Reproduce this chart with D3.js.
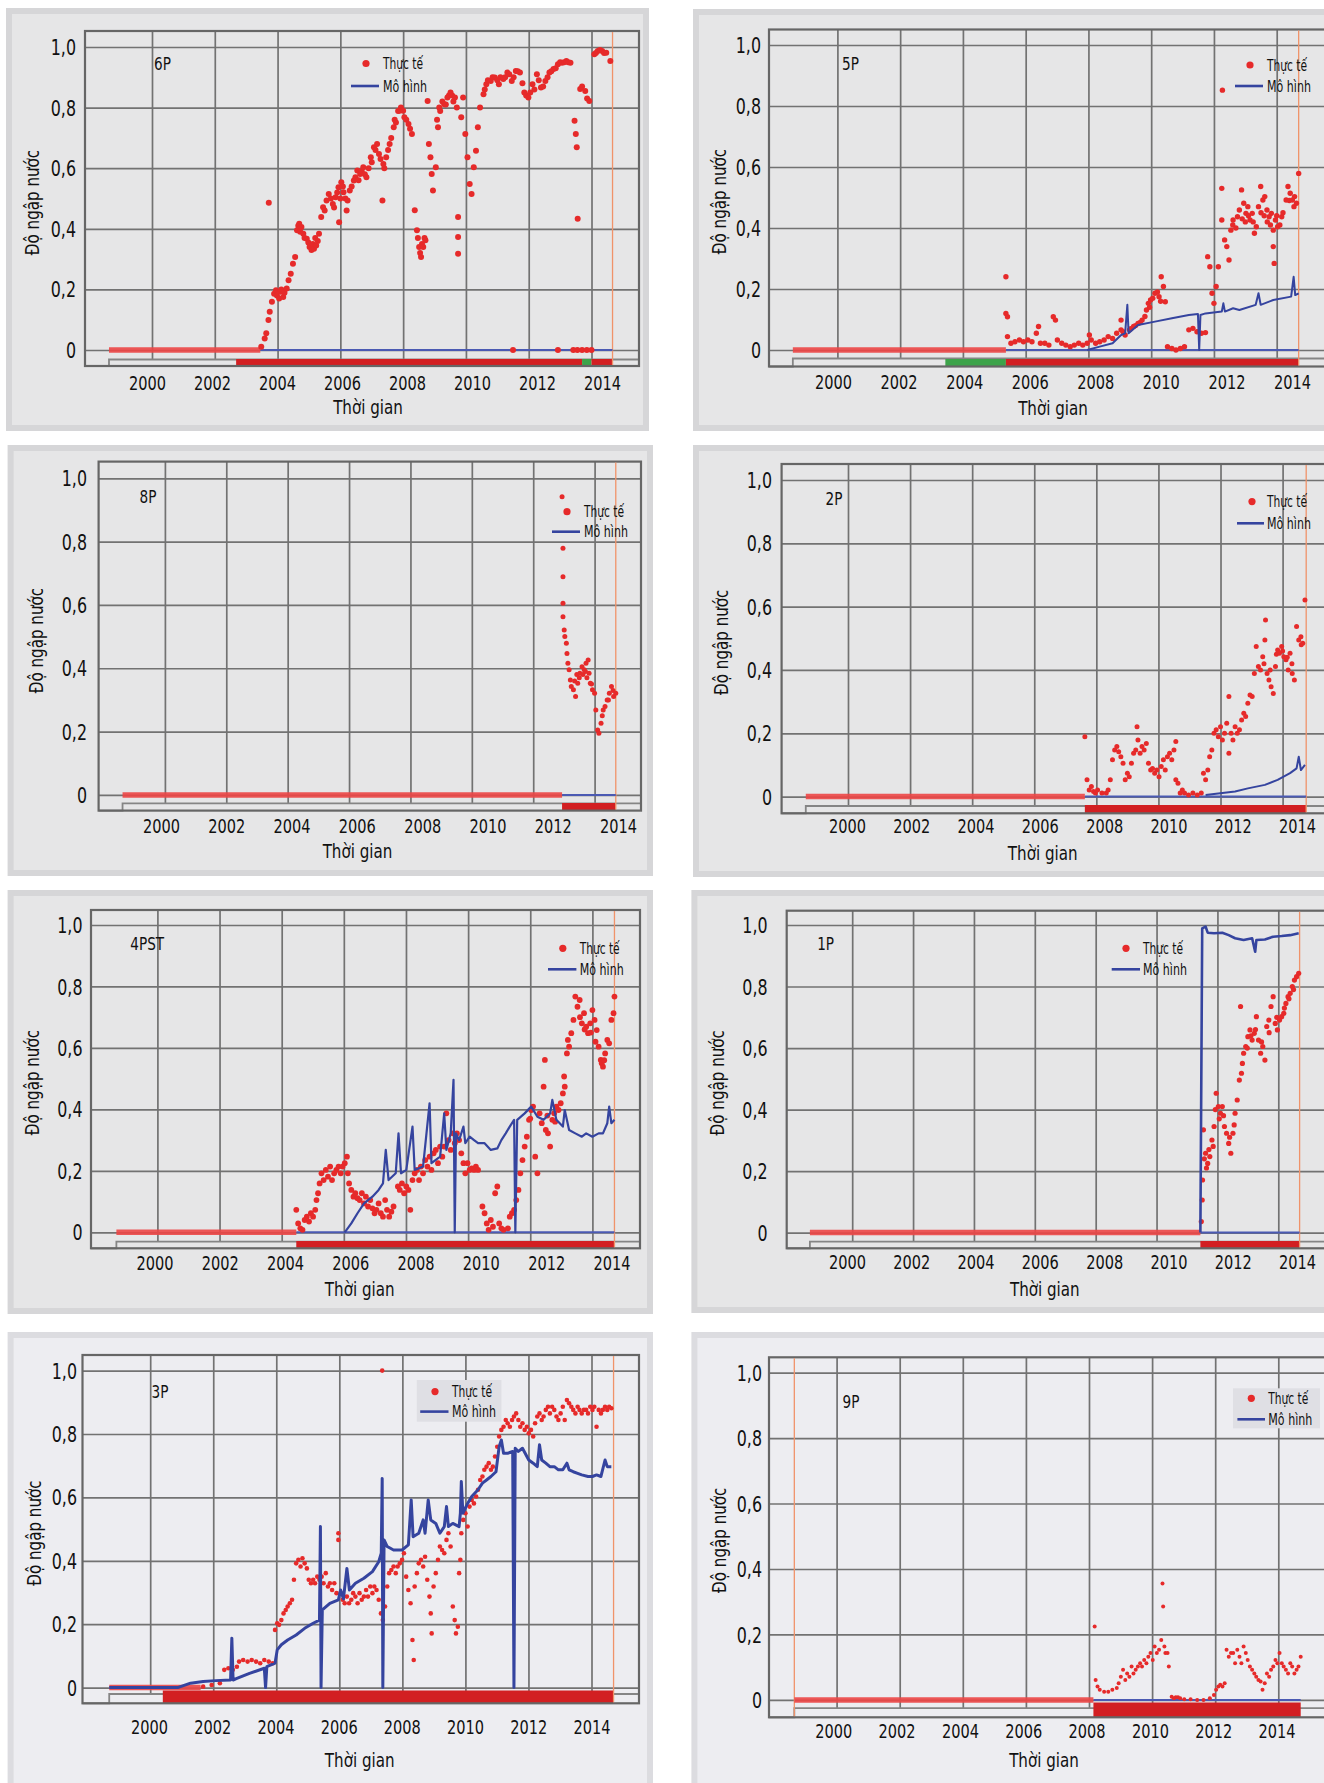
<!DOCTYPE html>
<html>
<head>
<meta charset="utf-8">
<script src="https://cdn.jsdelivr.net/npm/d3@7"></script>
<style>
  body { margin: 0; background: #fff; }
  svg { display: block; }
  text { font-family: "DejaVu Sans Condensed", "Liberation Sans Narrow", "Roboto", sans-serif; fill: #111; }
</style>
</head>
<body>
<svg id="chart"></svg>
<script>
const W = 1324, H = 1783

const yearTicks = [2000, 2002, 2004, 2006, 2008, 2010, 2012, 2014]
const valueTicks = [0, 0.2, 0.4, 0.6, 0.8, 1.0]
const valueLabels = ["0", "0,2", "0,4", "0,6", "0,8", "1,0"]
const yTitle = "Độ ngập nước"
const xTitle = "Thời gian"
const obsName = "Thực tế"
const modName = "Mô hình"

// ---- 6P
const obs6P = [[2003.48,0.011],[2003.59,0.038],[2003.64,0.055],[2003.71,0.099],[2003.72,0.486],[2003.75,0.126],[2003.82,0.159],[2003.89,0.186],[2003.95,0.197],[2003.98,0.18],[2004.05,0.17],[2004.09,0.192],[2004.12,0.2],[2004.18,0.175],[2004.22,0.189],[2004.29,0.203],[2004.35,0.23],[2004.42,0.252],[2004.49,0.285],[2004.56,0.307],[2004.62,0.395],[2004.66,0.41],[2004.69,0.417],[2004.72,0.39],[2004.76,0.406],[2004.82,0.384],[2004.86,0.37],[2004.93,0.367],[2004.98,0.355],[2005.02,0.34],[2005.08,0.33],[2005.12,0.35],[2005.16,0.334],[2005.2,0.37],[2005.23,0.345],[2005.28,0.36],[2005.32,0.384],[2005.39,0.439],[2005.45,0.471],[2005.5,0.46],[2005.56,0.493],[2005.63,0.515],[2005.7,0.5],[2005.76,0.482],[2005.8,0.47],[2005.85,0.504],[2005.9,0.52],[2005.94,0.537],[2005.96,0.422],[2006.0,0.5],[2006.03,0.554],[2006.08,0.54],[2006.1,0.521],[2006.16,0.5],[2006.2,0.46],[2006.23,0.493],[2006.3,0.526],[2006.36,0.54],[2006.43,0.559],[2006.48,0.57],[2006.54,0.592],[2006.58,0.56],[2006.63,0.581],[2006.68,0.59],[2006.73,0.603],[2006.78,0.58],[2006.83,0.57],[2006.9,0.6],[2006.97,0.636],[2007.0,0.62],[2007.07,0.669],[2007.12,0.66],[2007.17,0.68],[2007.23,0.647],[2007.28,0.63],[2007.34,0.493],[2007.37,0.614],[2007.4,0.6],[2007.46,0.636],[2007.52,0.66],[2007.57,0.68],[2007.62,0.7],[2007.7,0.735],[2007.73,0.76],[2007.77,0.751],[2007.84,0.789],[2007.88,0.79],[2007.93,0.8],[2008.0,0.79],[2008.04,0.768],[2008.1,0.76],[2008.17,0.746],[2008.22,0.73],[2008.28,0.713],[2008.37,0.461],[2008.44,0.395],[2008.47,0.37],[2008.51,0.34],[2008.54,0.32],[2008.57,0.307],[2008.6,0.35],[2008.64,0.34],[2008.68,0.37],[2008.71,0.362],[2008.78,0.822],[2008.82,0.68],[2008.87,0.636],[2008.91,0.581],[2008.95,0.526],[2009.04,0.603],[2009.08,0.76],[2009.11,0.735],[2009.15,0.8],[2009.18,0.789],[2009.25,0.82],[2009.31,0.811],[2009.36,0.81],[2009.41,0.833],[2009.46,0.84],[2009.51,0.85],[2009.56,0.84],[2009.6,0.82],[2009.65,0.833],[2009.71,0.8],[2009.75,0.439],[2009.75,0.373],[2009.75,0.318],[2009.85,0.768],[2009.91,0.833],[2009.98,0.713],[2010.05,0.636],[2010.12,0.548],[2010.18,0.515],[2010.25,0.603],[2010.32,0.658],[2010.38,0.735],[2010.45,0.8],[2010.56,0.844],[2010.6,0.86],[2010.65,0.877],[2010.7,0.89],[2010.79,0.888],[2010.85,0.9],[2010.92,0.899],[2011.0,0.89],[2011.05,0.877],[2011.1,0.9],[2011.19,0.894],[2011.25,0.9],[2011.32,0.916],[2011.38,0.91],[2011.46,0.888],[2011.5,0],[2011.52,0.9],[2011.59,0.921],[2011.65,0.92],[2011.72,0.916],[2011.8,0.88],[2011.86,0.85],[2011.92,0.84],[2011.99,0.833],[2012.05,0.85],[2012.12,0.877],[2012.18,0.86],[2012.26,0.91],[2012.32,0.89],[2012.39,0.866],[2012.46,0.87],[2012.53,0.888],[2012.6,0.9],[2012.66,0.916],[2012.72,0.92],[2012.79,0.927],[2012.86,0.93],[2012.93,0.943],[2012.93,0],[2013.0,0.95],[2013.06,0.948],[2013.13,0.95],[2013.2,0.954],[2013.26,0.95],[2013.33,0.948],[2013.42,0],[2013.46,0.757],[2013.5,0.713],[2013.53,0.669],[2013.55,0],[2013.56,0.433],[2013.64,0.861],[2013.7,0.87],[2013.7,0],[2013.8,0.855],[2013.85,0],[2013.86,0.83],[2013.93,0.822],[2014.0,0],[2014.09,0.976],[2014.14,0.98],[2014.2,0.987],[2014.27,0.99],[2014.34,0.987],[2014.4,0.98],[2014.47,0.981],[2014.6,0.954]]
const mod6P = []
const zero6P = [1998.63, 2003.45]
const modZero6P = [2003.45, 2014.67]
const bars6P = [[2002.68, 2013.7, "a"], [2013.7, 2014.0, "b"], [2014.0, 2014.67, "a"]]
const mark6P = 2014.67

// ---- 5P
const obs5P = [[2005.37,0.24],[2005.37,0.12],[2005.42,0.109],[2005.42,0.044],[2005.53,0.022],[2005.66,0.027],[2005.8,0.033],[2005.93,0.027],[2006.07,0.033],[2006.2,0.027],[2006.34,0.055],[2006.41,0.077],[2006.47,0.022],[2006.61,0.022],[2006.74,0.016],[2006.88,0.109],[2006.95,0.098],[2007.01,0.033],[2007.15,0.022],[2007.28,0.016],[2007.42,0.011],[2007.55,0.016],[2007.69,0.022],[2007.82,0.016],[2007.96,0.022],[2008.03,0.049],[2008.09,0.033],[2008.23,0.022],[2008.36,0.027],[2008.5,0.033],[2008.63,0.044],[2008.77,0.038],[2008.9,0.055],[2009.04,0.066],[2009.04,0.098],[2009.1,0.06],[2009.17,0.049],[2009.31,0.066],[2009.35,0.07],[2009.44,0.077],[2009.5,0.08],[2009.58,0.087],[2009.65,0.09],[2009.71,0.098],[2009.8,0.11],[2009.85,0.131],[2009.91,0.153],[2009.95,0.14],[2009.98,0.164],[2010.05,0.17],[2010.12,0.186],[2010.2,0.19],[2010.25,0.175],[2010.3,0.16],[2010.32,0.24],[2010.39,0.208],[2010.45,0.158],[2010.52,0.011],[2010.66,0.005],[2010.79,0],[2010.93,0.005],[2011.06,0.011],[2011.2,0.066],[2011.33,0.071],[2011.46,0.06],[2011.6,0.055],[2011.73,0.057],[2011.8,0.306],[2011.87,0.273],[2011.94,0.186],[2012.0,0.153],[2012.07,0.208],[2012.14,0.273],[2012.25,0.53],[2012.27,0.852],[2012.25,0.426],[2012.34,0.361],[2012.41,0.339],[2012.48,0.295],[2012.54,0.393],[2012.6,0.41],[2012.61,0.426],[2012.7,0.4],[2012.75,0.437],[2012.81,0.459],[2012.88,0.525],[2012.9,0.43],[2012.95,0.481],[2013.0,0.42],[2013.02,0.448],[2013.08,0.47],[2013.1,0.44],[2013.15,0.426],[2013.22,0.448],[2013.25,0.42],[2013.29,0.383],[2013.35,0.404],[2013.42,0.47],[2013.49,0.536],[2013.5,0.45],[2013.56,0.492],[2013.6,0.44],[2013.62,0.503],[2013.69,0.459],[2013.7,0.42],[2013.76,0.437],[2013.8,0.41],[2013.83,0.448],[2013.89,0.393],[2013.89,0.339],[2013.92,0.284],[2013.96,0.426],[2014.0,0.44],[2014.03,0.404],[2014.1,0.41],[2014.16,0.437],[2014.2,0.45],[2014.3,0.492],[2014.36,0.536],[2014.4,0.49],[2014.43,0.514],[2014.5,0.492],[2014.55,0.47],[2014.57,0.503],[2014.63,0.481],[2014.7,0.579]]
const mod5P = [[2007.96,0],[2008.36,0.011],[2008.77,0.022],[2009.04,0.049],[2009.17,0.055],[2009.24,0.148],[2009.28,0.055],[2009.58,0.082],[2010.12,0.093],[2010.66,0.104],[2011.2,0.115],[2011.49,0.118],[2011.53,0],[2011.57,0.115],[2011.73,0.12],[2012.25,0.126],[2012.3,0.153],[2012.35,0.126],[2012.61,0.137],[2012.81,0.131],[2013.33,0.148],[2013.42,0.186],[2013.49,0.148],[2013.89,0.164],[2014.46,0.175],[2014.54,0.24],[2014.59,0.18],[2014.7,0.186]]
const zero5P = [1998.58, 2005.37]
const modZero5P = [2005.37, 2014.7]
const bars5P = [[2003.44, 2005.37, "b"], [2005.37, 2014.7, "a"]]
const mark5P = 2014.7

// ---- 8P
const obs8P = [[2012.94,0.942],[2012.97,0.779],[2012.97,0.689],[2012.97,0.605],[2012.97,0.563],[2013.01,0.521],[2013.03,0.5],[2013.08,0.479],[2013.1,0.447],[2013.13,0.416],[2013.17,0.395],[2013.21,0.363],[2013.24,0.342],[2013.31,0.332],[2013.35,0.36],[2013.38,0.311],[2013.42,0.38],[2013.45,0.353],[2013.5,0.37],[2013.52,0.384],[2013.59,0.405],[2013.62,0.38],[2013.66,0.395],[2013.7,0.39],[2013.72,0.416],[2013.75,0.37],[2013.79,0.426],[2013.82,0.384],[2013.86,0.353],[2013.9,0.35],[2013.93,0.332],[2014.0,0.321],[2014.04,0.268],[2014.1,0.205],[2014.14,0.195],[2014.21,0.226],[2014.25,0.25],[2014.28,0.268],[2014.34,0.279],[2014.41,0.3],[2014.45,0.3],[2014.48,0.321],[2014.55,0.342],[2014.6,0.33],[2014.62,0.311],[2014.69,0.321]]
const mod8P = []
const zero8P = [1998.62, 2012.94]
const modZero8P = [2012.94, 2014.69]
const bars8P = [[2012.94, 2014.69, "a"]]
const mark8P = 2014.69

// ---- 2P
const obs2P = [[2007.63,0.189],[2007.7,0.053],[2007.77,0.021],[2007.84,0.032],[2007.91,0.016],[2007.97,0.011],[2008.04,0.021],[2008.18,0.011],[2008.32,0.011],[2008.38,0.021],[2008.45,0.053],[2008.52,0.116],[2008.59,0.147],[2008.66,0.158],[2008.72,0.142],[2008.79,0.126],[2008.86,0.105],[2008.93,0.053],[2009.0,0.074],[2009.06,0.063],[2009.13,0.105],[2009.2,0.137],[2009.27,0.147],[2009.31,0.221],[2009.34,0.179],[2009.41,0.137],[2009.47,0.158],[2009.54,0.147],[2009.61,0.168],[2009.68,0.105],[2009.75,0.084],[2009.81,0.089],[2009.88,0.074],[2009.95,0.084],[2010.02,0.063],[2010.09,0.095],[2010.16,0.116],[2010.22,0.084],[2010.29,0.126],[2010.36,0.137],[2010.43,0.116],[2010.5,0.147],[2010.56,0.174],[2010.56,0.053],[2010.63,0.042],[2010.7,0.011],[2010.77,0.021],[2010.84,0.011],[2010.97,0.005],[2011.11,0.011],[2011.25,0.005],[2011.38,0.011],[2011.45,0.074],[2011.52,0.053],[2011.59,0.084],[2011.65,0.126],[2011.72,0.147],[2011.79,0.2],[2011.86,0.211],[2011.93,0.189],[2012.0,0.221],[2012.06,0.179],[2012.13,0.2],[2012.2,0.232],[2012.27,0.316],[2012.27,0.137],[2012.34,0.2],[2012.4,0.179],[2012.47,0.221],[2012.54,0.2],[2012.61,0.211],[2012.68,0.242],[2012.75,0.263],[2012.81,0.253],[2012.88,0.295],[2012.95,0.321],[2013.02,0.316],[2013.09,0.389],[2013.15,0.474],[2013.22,0.411],[2013.29,0.4],[2013.36,0.442],[2013.4,0.42],[2013.43,0.495],[2013.45,0.558],[2013.5,0.389],[2013.56,0.368],[2013.6,0.4],[2013.63,0.347],[2013.7,0.326],[2013.77,0.411],[2013.8,0.45],[2013.84,0.463],[2013.9,0.453],[2013.97,0.474],[2014.0,0.46],[2014.04,0.442],[2014.11,0.432],[2014.15,0.44],[2014.18,0.4],[2014.24,0.453],[2014.3,0.42],[2014.31,0.389],[2014.38,0.368],[2014.45,0.537],[2014.52,0.495],[2014.59,0.505],[2014.6,0.48],[2014.65,0.484],[2014.72,0.621]]
const mod2P = [[2011.52,0.005],[2012.06,0.011],[2012.47,0.016],[2012.88,0.026],[2013.43,0.037],[2013.84,0.053],[2014.24,0.074],[2014.45,0.089],[2014.52,0.126],[2014.59,0.084],[2014.72,0.1]]
const zero2P = [1998.64, 2007.63]
const modZero2P = [2007.63, 2014.76]
const bars2P = [[2007.63, 2014.76, "a"]]
const mark2P = 2014.76

// ---- 4PST
const obs4PST = [[2004.47,0.073],[2004.53,0.029],[2004.6,0.013],[2004.67,0.008],[2004.74,0.04],[2004.81,0.051],[2004.88,0.035],[2004.94,0.062],[2005.01,0.051],[2005.08,0.073],[2005.12,0.105],[2005.17,0.127],[2005.22,0.159],[2005.28,0.192],[2005.35,0.17],[2005.42,0.203],[2005.49,0.181],[2005.56,0.214],[2005.62,0.17],[2005.69,0.192],[2005.76,0.203],[2005.83,0.214],[2005.9,0.192],[2005.96,0.214],[2006.03,0.225],[2006.1,0.246],[2006.13,0.192],[2006.17,0.159],[2006.24,0.138],[2006.31,0.116],[2006.37,0.127],[2006.44,0.111],[2006.51,0.105],[2006.58,0.127],[2006.65,0.094],[2006.71,0.116],[2006.78,0.084],[2006.85,0.105],[2006.92,0.078],[2006.99,0.062],[2007.05,0.073],[2007.12,0.094],[2007.19,0.062],[2007.26,0.051],[2007.33,0.105],[2007.39,0.073],[2007.46,0.051],[2007.53,0.067],[2007.6,0.084],[2007.74,0.149],[2007.8,0.138],[2007.87,0.159],[2007.94,0.127],[2008.01,0.149],[2008.08,0.138],[2008.14,0.073],[2008.21,0.17],[2008.28,0.192],[2008.35,0.203],[2008.42,0.17],[2008.48,0.214],[2008.55,0.192],[2008.62,0.235],[2008.69,0.214],[2008.76,0.246],[2008.82,0.203],[2008.89,0.257],[2008.96,0.268],[2009.03,0.225],[2009.1,0.279],[2009.17,0.246],[2009.23,0.279],[2009.3,0.387],[2009.37,0.3],[2009.44,0.268],[2009.51,0.322],[2009.57,0.29],[2009.64,0.322],[2009.71,0.3],[2009.78,0.257],[2009.85,0.225],[2009.91,0.192],[2009.98,0.225],[2010.05,0.203],[2010.12,0.208],[2010.19,0.203],[2010.25,0.214],[2010.32,0.203],[2010.46,0.084],[2010.53,0.062],[2010.6,0.029],[2010.66,0.008],[2010.73,0.04],[2010.8,0.018],[2010.87,0.127],[2010.94,0.149],[2011.0,0.029],[2011.07,0.013],[2011.14,0.008],[2011.28,0.013],[2011.34,0.051],[2011.41,0.062],[2011.48,0.073],[2011.55,0.105],[2011.62,0.138],[2011.68,0.192],[2011.75,0.235],[2011.82,0.279],[2011.89,0.311],[2011.96,0.366],[2012.0,0.37],[2012.03,0.398],[2012.09,0.409],[2012.16,0.246],[2012.23,0.192],[2012.3,0.387],[2012.37,0.355],[2012.43,0.474],[2012.47,0.561],[2012.5,0.333],[2012.55,0.38],[2012.57,0.322],[2012.64,0.279],[2012.71,0.366],[2012.77,0.387],[2012.8,0.36],[2012.84,0.409],[2012.91,0.398],[2012.98,0.42],[2013.05,0.452],[2013.09,0.507],[2013.11,0.474],[2013.18,0.582],[2013.21,0.626],[2013.25,0.604],[2013.32,0.648],[2013.39,0.691],[2013.45,0.767],[2013.52,0.734],[2013.59,0.756],[2013.6,0.7],[2013.66,0.68],[2013.73,0.713],[2013.75,0.66],[2013.8,0.669],[2013.86,0.648],[2013.93,0.68],[2013.95,0.65],[2014.0,0.723],[2014.07,0.691],[2014.1,0.62],[2014.14,0.658],[2014.2,0.604],[2014.27,0.561],[2014.3,0.55],[2014.34,0.539],[2014.38,0.56],[2014.41,0.582],[2014.48,0.626],[2014.54,0.615],[2014.61,0.691],[2014.68,0.713],[2014.71,0.767]]
const mod4PST = [[2006.03,0],[2006.24,0.029],[2006.44,0.062],[2006.65,0.094],[2006.92,0.116],[2007.12,0.138],[2007.26,0.159],[2007.35,0.268],[2007.44,0.17],[2007.67,0.192],[2007.76,0.322],[2007.84,0.192],[2008.01,0.203],[2008.21,0.344],[2008.28,0.203],[2008.55,0.214],[2008.76,0.42],[2008.82,0.225],[2009.1,0.246],[2009.23,0.387],[2009.3,0.268],[2009.44,0.322],[2009.53,0.496],[2009.57,0],[2009.61,0.322],[2009.71,0.3],[2009.85,0.344],[2009.91,0.29],[2010.05,0.311],[2010.19,0.3],[2010.32,0.29],[2010.53,0.29],[2010.73,0.268],[2010.94,0.273],[2011.07,0.3],[2011.21,0.322],[2011.34,0.344],[2011.48,0.366],[2011.52,0],[2011.58,0.366],[2011.82,0.387],[2012.03,0.409],[2012.23,0.376],[2012.43,0.366],[2012.64,0.387],[2012.71,0.431],[2012.84,0.366],[2013.05,0.344],[2013.11,0.398],[2013.25,0.333],[2013.45,0.322],[2013.66,0.311],[2013.8,0.322],[2014.0,0.311],[2014.2,0.322],[2014.34,0.322],[2014.48,0.355],[2014.54,0.409],[2014.61,0.355],[2014.71,0.366]]
const zero4PST = [1998.68, 2004.47]
const modZero4PST = [2004.47, 2014.71]
const bars4PST = [[2004.47, 2014.71, "a"]]
const mark4PST = 2014.71

// ---- 1P
const obs1P = [[2011.47,0.036],[2011.5,0.106],[2011.51,0.171],[2011.54,0.334],[2011.57,0.24],[2011.61,0.258],[2011.64,0.21],[2011.68,0.225],[2011.72,0.27],[2011.75,0.247],[2011.82,0.301],[2011.86,0.28],[2011.89,0.345],[2011.93,0.4],[2011.96,0.453],[2012.03,0.41],[2012.06,0.37],[2012.1,0.388],[2012.16,0.41],[2012.2,0.38],[2012.23,0.345],[2012.3,0.323],[2012.37,0.29],[2012.4,0.31],[2012.44,0.258],[2012.51,0.323],[2012.55,0.35],[2012.58,0.388],[2012.65,0.431],[2012.72,0.496],[2012.76,0.735],[2012.79,0.518],[2012.82,0.55],[2012.86,0.583],[2012.93,0.605],[2012.98,0.6],[2013.0,0.637],[2013.07,0.659],[2013.1,0.64],[2013.14,0.626],[2013.21,0.648],[2013.25,0.66],[2013.28,0.702],[2013.35,0.626],[2013.42,0.583],[2013.45,0.62],[2013.49,0.605],[2013.56,0.561],[2013.62,0.67],[2013.69,0.691],[2013.7,0.65],[2013.76,0.735],[2013.83,0.767],[2013.9,0.68],[2013.95,0.7],[2013.97,0.659],[2014.04,0.691],[2014.11,0.702],[2014.18,0.713],[2014.2,0.73],[2014.25,0.745],[2014.32,0.767],[2014.35,0.76],[2014.39,0.778],[2014.46,0.8],[2014.5,0.79],[2014.53,0.821],[2014.6,0.832],[2014.67,0.843]]
const mod1P = [[2011.44,0],[2011.5,0.989],[2011.61,0.995],[2011.68,0.975],[2011.89,0.973],[2012.16,0.975],[2012.37,0.967],[2012.58,0.957],[2012.86,0.951],[2013.14,0.957],[2013.24,0.913],[2013.28,0.951],[2013.56,0.953],[2013.83,0.962],[2014.11,0.964],[2014.39,0.967],[2014.67,0.973]]
const zero1P = [1998.61, 2011.44]
const modZero1P = [2011.44, 2014.7]
const bars1P = [[2011.44, 2014.7, "a"]]
const mark1P = 2014.7

// ---- 3P
const obs3P = [[2001.68,0.003],[2001.95,0.008],[2002.21,0.014],[2002.35,0.056],[2002.48,0.061],[2002.62,0.056],[2002.75,0.066],[2002.82,0.082],[2002.95,0.087],[2003.09,0.082],[2003.22,0.087],[2003.36,0.082],[2003.49,0.077],[2003.62,0.087],[2003.76,0.082],[2003.89,0.077],[2003.96,0.182],[2004.03,0.203],[2004.09,0.198],[2004.16,0.213],[2004.23,0.234],[2004.3,0.245],[2004.36,0.256],[2004.43,0.266],[2004.5,0.277],[2004.56,0.34],[2004.63,0.392],[2004.7,0.403],[2004.77,0.382],[2004.83,0.408],[2004.9,0.392],[2004.97,0.376],[2005.03,0.34],[2005.1,0.329],[2005.17,0.34],[2005.23,0.329],[2005.3,0.35],[2005.37,0.34],[2005.44,0.35],[2005.5,0.329],[2005.57,0.361],[2005.64,0.319],[2005.7,0.329],[2005.77,0.308],[2005.84,0.329],[2005.91,0.298],[2005.97,0.487],[2005.97,0.466],[2006.04,0.298],[2006.11,0.277],[2006.17,0.266],[2006.24,0.287],[2006.31,0.266],[2006.38,0.277],[2006.44,0.298],[2006.51,0.287],[2006.58,0.266],[2006.64,0.298],[2006.71,0.277],[2006.78,0.287],[2006.85,0.308],[2006.91,0.287],[2006.98,0.319],[2007.05,0.298],[2007.11,0.319],[2007.18,0.308],[2007.25,0.277],[2007.32,0.234],[2007.36,1.0],[2007.38,0.213],[2007.45,0.256],[2007.52,0.319],[2007.58,0.361],[2007.65,0.371],[2007.72,0.382],[2007.79,0.361],[2007.85,0.382],[2007.92,0.392],[2007.99,0.403],[2008.05,0.424],[2008.12,0.35],[2008.19,0.308],[2008.26,0.266],[2008.32,0.15],[2008.36,0.087],[2008.39,0.319],[2008.46,0.361],[2008.52,0.392],[2008.59,0.403],[2008.66,0.382],[2008.72,0.413],[2008.79,0.34],[2008.86,0.287],[2008.9,0.234],[2008.93,0.171],[2008.99,0.319],[2009.06,0.361],[2009.13,0.403],[2009.19,0.445],[2009.26,0.434],[2009.33,0.424],[2009.4,0.466],[2009.46,0.487],[2009.53,0.445],[2009.6,0.256],[2009.66,0.213],[2009.7,0.171],[2009.76,0.192],[2009.8,0.361],[2009.84,0.403],[2009.87,0.487],[2009.93,0.529],[2010.0,0.55],[2010.07,0.508],[2010.13,0.571],[2010.2,0.592],[2010.27,0.581],[2010.34,0.603],[2010.4,0.624],[2010.47,0.655],[2010.54,0.666],[2010.6,0.687],[2010.67,0.697],[2010.74,0.708],[2010.81,0.687],[2010.87,0.697],[2010.94,0.729],[2011.01,0.76],[2011.07,0.792],[2011.14,0.813],[2011.21,0.823],[2011.28,0.844],[2011.34,0.834],[2011.41,0.823],[2011.48,0.844],[2011.54,0.855],[2011.61,0.865],[2011.68,0.844],[2011.74,0.823],[2011.81,0.834],[2011.88,0.813],[2011.95,0.823],[2012.01,0.802],[2012.08,0.813],[2012.15,0.792],[2012.21,0.834],[2012.28,0.855],[2012.35,0.865],[2012.42,0.844],[2012.48,0.855],[2012.55,0.876],[2012.62,0.886],[2012.68,0.865],[2012.75,0.886],[2012.82,0.876],[2012.89,0.855],[2012.95,0.844],[2013.02,0.865],[2013.09,0.886],[2013.15,0.844],[2013.22,0.907],[2013.29,0.897],[2013.36,0.886],[2013.42,0.876],[2013.49,0.865],[2013.56,0.886],[2013.62,0.876],[2013.69,0.865],[2013.76,0.876],[2013.83,0.876],[2013.89,0.865],[2013.96,0.886],[2014.03,0.876],[2014.09,0.886],[2014.16,0.823],[2014.23,0.876],[2014.3,0.865],[2014.36,0.876],[2014.43,0.886],[2014.5,0.876],[2014.56,0.886],[2014.63,0.881]]
const mod3P = [[1998.7,0],[2000.87,0],[2001.28,0.014],[2001.68,0.019],[2002.08,0.022],[2002.55,0.024],[2002.59,0.156],[2002.63,0.024],[2002.75,0.029],[2003.15,0.045],[2003.62,0.061],[2003.66,0],[2003.7,0.066],[2003.96,0.077],[2004.03,0.119],[2004.16,0.135],[2004.36,0.15],[2004.63,0.166],[2004.9,0.187],[2005.17,0.203],[2005.37,0.213],[2005.4,0.508],[2005.42,0],[2005.46,0.245],[2005.7,0.266],[2005.97,0.277],[2006.04,0.308],[2006.13,0.28],[2006.24,0.376],[2006.32,0.308],[2006.51,0.329],[2006.78,0.345],[2007.05,0.366],[2007.25,0.397],[2007.33,0.424],[2007.36,0.66],[2007.38,0],[2007.42,0.466],[2007.52,0.445],[2007.72,0.434],[2007.99,0.434],[2008.19,0.45],[2008.28,0.592],[2008.34,0.476],[2008.52,0.487],[2008.66,0.529],[2008.72,0.487],[2008.82,0.592],[2008.9,0.529],[2009.06,0.518],[2009.19,0.487],[2009.33,0.508],[2009.4,0.571],[2009.46,0.508],[2009.6,0.518],[2009.8,0.508],[2009.84,0.55],[2009.87,0.65],[2009.92,0.55],[2010.07,0.581],[2010.2,0.603],[2010.4,0.624],[2010.54,0.645],[2010.67,0.655],[2010.81,0.666],[2010.97,0.681],[2011.07,0.76],[2011.14,0.781],[2011.21,0.739],[2011.34,0.739],[2011.5,0.745],[2011.54,0],[2011.58,0.755],[2011.68,0.745],[2011.81,0.755],[2012.01,0.718],[2012.15,0.708],[2012.28,0.697],[2012.35,0.766],[2012.42,0.718],[2012.55,0.708],[2012.68,0.697],[2012.82,0.697],[2012.95,0.687],[2013.09,0.687],[2013.22,0.708],[2013.29,0.687],[2013.42,0.681],[2013.56,0.676],[2013.69,0.671],[2013.89,0.666],[2014.03,0.666],[2014.16,0.671],[2014.3,0.666],[2014.43,0.718],[2014.5,0.697],[2014.63,0.697]]
const zero3P = [1998.7, 2001.6]
const modZero3P = null
const bars3P = [[2000.4, 2014.7, "a"]]
const mark3P = 2014.7

// ---- 9P
const obs9P = [[2008.18,0.224],[2008.21,0.061],[2008.27,0.041],[2008.34,0.031],[2008.48,0.025],[2008.61,0.025],[2008.74,0.031],[2008.88,0.036],[2008.94,0.051],[2009.01,0.071],[2009.08,0.092],[2009.15,0.061],[2009.21,0.081],[2009.28,0.071],[2009.35,0.102],[2009.41,0.081],[2009.48,0.092],[2009.55,0.102],[2009.62,0.112],[2009.68,0.102],[2009.75,0.122],[2009.82,0.112],[2009.88,0.132],[2009.95,0.143],[2010.02,0.122],[2010.08,0.163],[2010.15,0.143],[2010.22,0.153],[2010.29,0.183],[2010.33,0.356],[2010.35,0.285],[2010.39,0.163],[2010.42,0.143],[2010.49,0.143],[2010.53,0.102],[2010.62,0.01],[2010.69,0.005],[2010.75,0.008],[2010.82,0.008],[2010.89,0.005],[2011.02,0.002],[2011.22,0.002],[2011.43,0],[2011.63,0],[2011.83,0.005],[2011.96,0.015],[2012.03,0.031],[2012.1,0.041],[2012.16,0.046],[2012.23,0.041],[2012.3,0.051],[2012.36,0.153],[2012.43,0.132],[2012.5,0.143],[2012.57,0.143],[2012.63,0.112],[2012.7,0.153],[2012.77,0.132],[2012.83,0.112],[2012.9,0.163],[2012.97,0.143],[2013.03,0.122],[2013.1,0.102],[2013.17,0.092],[2013.24,0.081],[2013.3,0.071],[2013.37,0.061],[2013.44,0.056],[2013.5,0.031],[2013.57,0.051],[2013.64,0.081],[2013.71,0.071],[2013.77,0.092],[2013.84,0.102],[2013.91,0.122],[2013.97,0.112],[2014.04,0.143],[2014.11,0.112],[2014.17,0.102],[2014.24,0.092],[2014.31,0.081],[2014.38,0.112],[2014.44,0.102],[2014.51,0.081],[2014.58,0.092],[2014.64,0.102],[2014.71,0.132]]
const mod9P = []
const zero9P = [1998.66, 2008.14]
const modZero9P = [2008.14, 2014.71]
const bars9P = [[2008.14, 2014.71, "a"]]
const mark9P = 1998.66

const panelNames = ["6P", "5P", "8P", "2P", "4PST", "1P", "3P", "9P"]
const series = [
  { obs: obs6P, mod: mod6P, zero: zero6P, modZero: modZero6P, bars: bars6P, mark: mark6P },
  { obs: obs5P, mod: mod5P, zero: zero5P, modZero: modZero5P, bars: bars5P, mark: mark5P },
  { obs: obs8P, mod: mod8P, zero: zero8P, modZero: modZero8P, bars: bars8P, mark: mark8P },
  { obs: obs2P, mod: mod2P, zero: zero2P, modZero: modZero2P, bars: bars2P, mark: mark2P },
  { obs: obs4PST, mod: mod4PST, zero: zero4PST, modZero: modZero4PST, bars: bars4PST, mark: mark4PST },
  { obs: obs1P, mod: mod1P, zero: zero1P, modZero: modZero1P, bars: bars1P, mark: mark1P },
  { obs: obs3P, mod: mod3P, zero: zero3P, modZero: modZero3P, bars: bars3P, mark: mark3P },
  { obs: obs9P, mod: mod9P, zero: zero9P, modZero: modZero9P, bars: bars9P, mark: mark9P },
]

// page geometry of each panel (pixels)
const layout = [
  { box: [9, 11, 646, 428], frame: [85, 31, 639, 366], gx: [152, 591.5], gy: [350, 47], lab: [147, 602], labY: 390,
    yLabX: 76, yTitleX: 32, xTitleX: 368, xTitleY: 414, nameAt: [154, 70], stripY: 359.5, barTop: 359,
    leg: { dot: [366, 63.5], tx: 383, line: [351, 379, 86] }, r: 3, lw: 2, bg: "#e6e6e7", edge: "#d6d6d8" },
  { box: [696, 12, 1345, 428], frame: [769, 29.5, 1335, 366.5], gx: [837.4, 1276.7], gy: [350, 45], lab: [833, 1292], labY: 389,
    yLabX: 761, yTitleX: 719, xTitleX: 1053, xTitleY: 414.5, nameAt: [842, 70], stripY: 358.5, barTop: 359,
    leg: { dot: [1250, 65], tx: 1267, line: [1235, 1263, 86] }, r: 2.7, lw: 2, bg: "#e6e6e7", edge: "#d6d6d8" },
  { box: [10.6, 448, 650, 873], frame: [98.6, 461.6, 641, 810.6], gx: [164.9, 594.6], gy: [794.9, 478.3], lab: [161, 618], labY: 833,
    yLabX: 87, yTitleX: 36, xTitleX: 357.5, xTitleY: 858, nameAt: [139.6, 503], stripY: 803.3, barTop: 803,
    leg: { dot: [567, 511.7], tx: 584, line: [552, 580, 531.7] }, r: 2.5, lw: 2, bg: "#e6e6e7", edge: "#d6d6d8" },
  { box: [696, 448, 1345, 874], frame: [781.6, 464, 1335, 813.3], gx: [848, 1282.6], gy: [796.6, 480], lab: [847, 1297], labY: 833,
    yLabX: 772, yTitleX: 721, xTitleX: 1042.7, xTitleY: 859.5, nameAt: [825.6, 505], stripY: 806, barTop: 805,
    leg: { dot: [1252, 501.6], tx: 1267, line: [1237, 1264, 523.3] }, r: 2.5, lw: 2, bg: "#e6e6e7", edge: "#d6d6d8" },
  { box: [10.6, 893, 650, 1311], frame: [91, 910, 640, 1248.3], gx: [157.4, 592.4], gy: [1232.3, 925], lab: [154.5, 611.4], labY: 1269.5,
    yLabX: 82.5, yTitleX: 32, xTitleX: 359.7, xTitleY: 1295.5, nameAt: [130.3, 950], stripY: 1241.6, barTop: 1241,
    leg: { dot: [562.8, 948.3], tx: 579.7, line: [548, 576.4, 969.3] }, r: 2.9, lw: 2.2, bg: "#e6e6e7", edge: "#d6d6d8" },
  { box: [694.4, 893, 1345, 1310], frame: [786.7, 910.7, 1335, 1248.3], gx: [852.2, 1278.3], gy: [1232.6, 925], lab: [847, 1297], labY: 1268.6,
    yLabX: 767.6, yTitleX: 717, xTitleX: 1044.8, xTitleY: 1295.5, nameAt: [817.2, 950], stripY: 1241.6, barTop: 1241,
    leg: { dot: [1126, 948.3], tx: 1143, line: [1111.7, 1140, 969.3] }, r: 2.6, lw: 2.6, bg: "#e6e6e7", edge: "#d6d6d8" },
  { box: [10.6, 1335, 650, 1800], frame: [82.5, 1355, 639, 1703.3], gx: [150.2, 591.5], gy: [1687.6, 1370.6], lab: [149, 591.5], labY: 1734,
    yLabX: 77, yTitleX: 34, xTitleX: 359.7, xTitleY: 1766.5, nameAt: [151.5, 1398], stripY: 1694, barTop: 1690.5,
    leg: { dot: [435, 1391.6], tx: 452, line: [420.2, 448.5, 1411.6], box: [416.8, 1380, 501.4, 1421.7] }, r: 2.3, lw: 3, bg: "#ededf1", edge: "#dcdce0" },
  { box: [694.4, 1335, 1345, 1800], frame: [769, 1357.3, 1335, 1717.3], gx: [836.6, 1278.3], gy: [1699.9, 1372.6], lab: [833.2, 1276.6], labY: 1737.6,
    yLabX: 762, yTitleX: 719, xTitleX: 1044, xTitleY: 1767, nameAt: [842.5, 1408], stripY: 1708.2, barTop: 1702.5,
    leg: { dot: [1251.3, 1398.3], tx: 1268.3, line: [1237.4, 1265, 1419.3], box: [1233, 1388.3, 1320, 1428.3] }, r: 2, lw: 2, bg: "#ededf1", edge: "#dcdce0" },
]

const red = "#e62a2a", redZero = "#ec4646", barRed = "#d21f22", barGreen = "#3da34a"
const blue = "#35449f", gridColor = "#727272", frameColor = "#666", markColor = "#f0936a"
const narrow = 0.84 // squeeze the condensed face toward the narrow type of the original

const svg = d3.select("#chart").attr("width", W).attr("height", H)

function squeeze(sel, len) {
  sel.each(function () {
    const w = len || this.getComputedTextLength() * narrow
    if (w > 0) d3.select(this).attr("textLength", w).attr("lengthAdjust", "spacingAndGlyphs")
  })
}

function drawPanel(name, s, L) {
  const g = svg.append("g").attr("class", "panel")
  const x = d3.scaleLinear().domain([2000, 2014]).range(L.gx)
  const xLab = d3.scaleLinear().domain([2000, 2014]).range(L.lab)
  const y = d3.scaleLinear().domain([0, 1]).range(L.gy)
  const [fl, ft, fr, fb] = L.frame
  const [bx0, by0, bx1, by1] = L.box

  g.append("rect")
    .attr("x", bx0).attr("y", by0).attr("width", bx1 - bx0).attr("height", by1 - by0)
    .attr("fill", L.bg).attr("stroke", L.edge).attr("stroke-width", 6)

  g.append("rect")
    .attr("x", fl).attr("y", ft).attr("width", fr - fl).attr("height", fb - ft)
    .attr("fill", L.bg)

  // vertical grid
  g.append("g")
    .attr("transform", `translate(0,${L.stripY})`)
    .call(d3.axisBottom(x).tickValues(yearTicks).tickSize(-(L.stripY - ft)).tickFormat(""))
    .call(a => a.select(".domain").remove())
    .selectAll("line").attr("stroke", gridColor).attr("stroke-width", 1.7)

  // horizontal grid
  g.append("g")
    .attr("transform", `translate(${fl},0)`)
    .call(d3.axisLeft(y).tickValues(valueTicks).tickSize(-(fr - fl)).tickFormat(""))
    .call(a => a.select(".domain").remove())
    .selectAll("line").attr("stroke", gridColor).attr("stroke-width", 1.7)

  // lower strip
  const step = x(s.zero[0])
  g.append("path")
    .attr("d", `M${fl},${fb}H${step}V${L.stripY}H${fr}`)
    .attr("fill", "none").attr("stroke", "#858585").attr("stroke-width", 1.8)

  g.selectAll("rect.bar")
    .data(s.bars)
    .join("rect")
      .attr("class", "bar")
      .attr("x", d => x(d[0]))
      .attr("width", d => x(d[1]) - x(d[0]))
      .attr("y", L.barTop)
      .attr("height", fb - L.barTop)
      .attr("fill", d => d[2] === "a" ? barRed : barGreen)

  // frame
  g.append("rect")
    .attr("x", fl).attr("y", ft).attr("width", fr - fl).attr("height", fb - ft)
    .attr("fill", "none").attr("stroke", frameColor).attr("stroke-width", 2.2)

  // end of record marker
  g.append("line")
    .attr("x1", x(s.mark)).attr("x2", x(s.mark))
    .attr("y1", ft + 1).attr("y2", fb - 1)
    .attr("stroke", markColor).attr("stroke-width", 1.3)

  // model zero line
  if (s.modZero) {
    g.append("line")
      .attr("x1", x(s.modZero[0])).attr("x2", x(s.modZero[1]))
      .attr("y1", y(0)).attr("y2", y(0))
      .attr("stroke", "#4b5ab3").attr("stroke-width", 2)
  }

  // observed zeros before the first reading
  g.append("line")
    .attr("x1", x(s.zero[0])).attr("x2", x(s.zero[1]))
    .attr("y1", y(0)).attr("y2", y(0))
    .attr("stroke", redZero).attr("stroke-width", 5.5).attr("stroke-opacity", 0.9)

  g.selectAll("circle.obs")
    .data(s.obs)
    .join("circle")
      .attr("class", "obs")
      .attr("cx", d => x(d[0]))
      .attr("cy", d => y(d[1]))
      .attr("r", L.r)
      .attr("fill", red)

  if (s.mod.length) {
    g.append("path")
      .datum(s.mod)
      .attr("d", d3.line().x(d => x(d[0])).y(d => y(d[1])))
      .attr("fill", "none").attr("stroke", blue).attr("stroke-width", L.lw)
      .attr("stroke-linejoin", "round")
  }

  // y tick labels
  g.append("g")
    .attr("transform", `translate(${L.yLabX},0)`)
    .call(d3.axisLeft(y).tickValues(valueTicks).tickSize(0).tickPadding(0).tickFormat((d, i) => valueLabels[i]))
    .call(a => a.select(".domain").remove())
    .selectAll("text").attr("font-size", 21).attr("dy", "0.36em").attr("fill", "#111")
    .call(squeeze)

  // x tick labels
  g.append("g")
    .attr("transform", `translate(0,${L.labY})`)
    .call(d3.axisBottom(xLab).tickValues(yearTicks).tickSize(0).tickPadding(0).tickFormat(d3.format("d")))
    .call(a => a.select(".domain").remove())
    .selectAll("text").attr("font-size", 19.5).attr("y", 0).attr("dy", 0).attr("fill", "#111")
    .call(squeeze, 37)

  g.append("text")
    .attr("transform", `translate(${L.yTitleX},${(L.gy[0] + L.gy[1]) / 2 + 4}) rotate(-90)`)
    .attr("text-anchor", "middle").attr("dy", "0.35em")
    .attr("font-size", 20)
    .text(yTitle)
    .call(squeeze)

  g.append("text")
    .attr("x", L.xTitleX).attr("y", L.xTitleY)
    .attr("text-anchor", "middle").attr("font-size", 20)
    .text(xTitle)
    .call(squeeze)

  g.append("text")
    .attr("x", L.nameAt[0]).attr("y", L.nameAt[1])
    .attr("font-size", 18)
    .text(name)
    .call(squeeze)

  // legend
  const lg = L.leg
  if (lg.box) {
    g.append("rect")
      .attr("x", lg.box[0]).attr("y", lg.box[1])
      .attr("width", lg.box[2] - lg.box[0]).attr("height", lg.box[3] - lg.box[1])
      .attr("fill", "#dfdfe4")
  }
  g.append("circle").attr("cx", lg.dot[0]).attr("cy", lg.dot[1]).attr("r", 3.6).attr("fill", red)
  g.append("line")
    .attr("x1", lg.line[0]).attr("x2", lg.line[1]).attr("y1", lg.line[2]).attr("y2", lg.line[2])
    .attr("stroke", blue).attr("stroke-width", 2.6)
  g.append("text").attr("x", lg.tx).attr("y", lg.dot[1] + 5.5).attr("font-size", 15).text(obsName).call(squeeze, 40)
  g.append("text").attr("x", lg.tx).attr("y", lg.line[2] + 5.5).attr("font-size", 15).text(modName).call(squeeze, 44)
}

panelNames.forEach((name, i) => drawPanel(name, series[i], layout[i]))
</script>
</body>
</html>
